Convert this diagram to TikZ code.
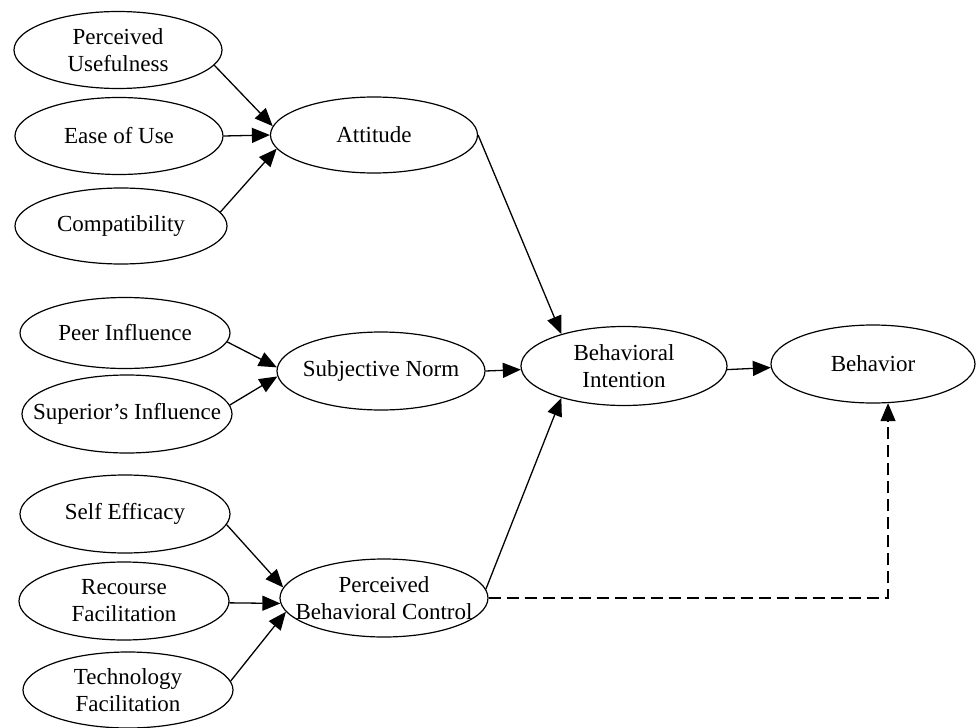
\documentclass[tikz,border=0pt]{standalone}
\usepackage{fontspec}
\setmainfont{Liberation Serif}
\usetikzlibrary{arrows.meta,shapes.geometric}
\begin{document}
\begin{tikzpicture}[x=1pt,y=-1pt,
  oval/.style={draw, ellipse, line width=1.2pt, inner sep=0pt, minimum width=208pt, minimum height=77pt},
  lbl/.style={align=center, font=\fontsize{23}{27}\selectfont, inner sep=0pt},
  arr/.style={line width=1.3pt, -{Triangle[length=18pt,width=15pt]}},
  dsh/.style={dash pattern=on 12pt off 6pt}]
\useasboundingbox (0,0) rectangle (978,728);

\node[oval] (pu) at (118,50) {};
\node[lbl] (pu-t) at (pu) {Perceived\\Usefulness};
\node[oval] (eou) at (119,136) {};
\node[lbl] (eou-t) at (eou) {Ease of Use};
\node[oval, minimum width=212pt, minimum height=76pt] (comp) at (121,226) {};
\node[lbl] (comp-t) at (comp) {Compatibility};
\node[oval, minimum width=207pt, minimum height=76pt] (att) at (374,135) {};
\node[lbl] (att-t) at (att) {Attitude};

\node[oval, minimum width=210pt, minimum height=71pt] (peer) at (125,333) {};
\node[lbl] (peer-t) at (peer) {Peer Influence};
\node[oval, minimum width=210pt, minimum height=78pt] (sup) at (127,414) {};
\node[lbl] (sup-t) at (sup) {Superior’s Influence};
\node[oval, minimum height=78pt] (sn) at (381,371) {};
\node[lbl] (sn-t) at (sn) {Subjective Norm};

\node[oval, minimum width=210pt, minimum height=78pt] (se) at (125,514) {};
\node[lbl] (se-t) at (se) {Self Efficacy};
\node[oval, minimum width=210pt, minimum height=78pt] (rf) at (124,601) {};
\node[lbl] (rf-t) at (rf) {Recourse\\Facilitation};
\node[oval, minimum width=210pt, minimum height=76pt] (tf) at (128,690) {};
\node[lbl] (tf-t) at (tf) {Technology\\Facilitation};
\node[oval, minimum height=78pt] (pbc) at (384,598) {};
\node[lbl] (pbc-t) at (pbc) {Perceived\\Behavioral Control};

\node[oval, minimum width=206pt, minimum height=79pt] (bi) at (624,366) {};
\node[lbl] (bi-t) at (bi) {Behavioral\\Intention};
\node[oval, minimum width=204pt, minimum height=78pt] (beh) at (873,364) {};
\node[lbl] (beh-t) at (beh) {Behavior};

\draw[arr] (pu.-9) -- (att.175);
\draw[arr] (eou.east) -- (att.180);
\draw[arr] (comp.8) -- (att.188);
\draw[arr] (peer.-5) -- (sn.178);
\draw[arr] (sup.5) -- (sn.183);
\draw[arr] (se.-6) -- (pbc.174);
\draw[arr] (rf.-1) -- (pbc.183);
\draw[arr] (tf.5) -- (pbc.188);
\draw[arr] (att.east) -- (bi.153);
\draw[arr] (sn.east) -- (bi.182);
\draw[arr] (pbc.5) -- (bi.207);
\draw[arr] (bi.-2) -- (beh.182);
\draw[arr, dsh] (pbc.east) -| (beh.291);
\end{tikzpicture}
\end{document}
